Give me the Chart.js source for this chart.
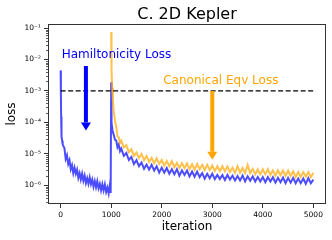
<!DOCTYPE html>
<html>
<head>
<meta charset="utf-8">
<script src="https://cdn.jsdelivr.net/npm/chart.js@4.4.1/dist/chart.umd.min.js"></script>
<style>
  html, body { margin: 0; padding: 0; background: #fff; }
</style>
</head>
<body>
<canvas id="chart" width="332" height="240"></canvas>
<script>
// Hamiltonicity loss (blue)
const blueIter = [0, 5, 10, 15, 20, 30, 40, 50, 75, 100, 125, 150, 175, 200, 225, 250, 275, 300, 325, 350, 375, 400, 425, 450, 475, 500, 525, 550, 575, 600, 625, 650, 675, 700, 725, 750, 775, 800, 825, 850, 875, 900, 925, 950, 975, 990,
  1000, 1003, 1010, 1025, 1050, 1075, 1100, 1125, 1150, 1175, 1200, 1250, 1300, 1350, 1400, 1450, 1500, 1550, 1600, 1650, 1700, 1750, 1800, 1850, 1900, 1950,
  2000, 2050, 2100, 2150, 2200, 2250, 2300, 2350, 2400, 2450, 2500, 2550, 2600, 2650, 2700, 2750, 2800, 2850, 2900, 2950,
  3000, 3050, 3100, 3150, 3200, 3250, 3300, 3350, 3400, 3450, 3500, 3550, 3600, 3650, 3700, 3750, 3800, 3850, 3900, 3950,
  4000, 4050, 4100, 4150, 4200, 4250, 4300, 4350, 4400, 4450, 4500, 4550, 4600, 4650, 4700, 4750, 4800, 4850, 4900, 4950, 5000];
const blueLoss = [4.5e-3, 8e-4, 1.5e-4, 6e-5, 3.5e-5, 2.6e-5, 2.0e-5, 1.8e-5, 1.5e-5, 6.8e-6, 8.9e-6, 4.7e-6, 6.2e-6, 3.2e-6, 4.3e-6, 2.4e-6, 3.6e-6, 2.3e-6, 3.1e-6, 1.7e-6, 2.4e-6, 1.5e-6, 2.3e-6, 1.38e-6, 2.0e-6, 1.17e-6, 1.66e-6, 1.1e-6, 1.74e-6, 1.07e-6, 1.5e-6, 8.9e-7, 1.35e-6, 8.5e-7, 1.32e-6, 7.9e-7, 1.1e-6, 6.8e-7, 1.07e-6, 6.8e-7, 1.05e-6, 6.0e-7, 8.3e-7, 5.4e-7, 1.05e-6, 5.6e-7,
  1.9e-3, 2.5e-4, 1.0e-4, 5.6e-5, 4.0e-5, 2.8e-5, 2.6e-5, 1.6e-5, 1.95e-5, 1.2e-5, 1.45e-5, 8.5e-6, 1.05e-5, 6.3e-6, 7.9e-6, 4.7e-6, 6.2e-6, 4.0e-6, 5.2e-6, 3.3e-6, 4.5e-6, 3.1e-6, 4.4e-6, 2.9e-6, 4.0e-6, 2.5e-6,
  3.6e-6, 2.5e-6, 3.5e-6, 2.3e-6, 3.2e-6, 2.2e-6, 3.2e-6, 2.0e-6, 2.95e-6, 2.1e-6, 2.9e-6, 1.9e-6, 2.7e-6, 1.86e-6, 2.7e-6, 1.8e-6, 2.4e-6, 1.6e-6, 2.3e-6, 1.66e-6,
  2.3e-6, 1.55e-6, 2.1e-6, 1.55e-6, 2.1e-6, 1.45e-6, 2.1e-6, 1.5e-6, 2.0e-6, 1.4e-6, 1.95e-6, 1.4e-6, 2.0e-6, 1.32e-6, 1.9e-6, 1.38e-6, 1.9e-6, 1.3e-6, 1.8e-6, 1.3e-6,
  1.8e-6, 1.23e-6, 1.8e-6, 1.3e-6, 1.78e-6, 1.2e-6, 1.7e-6, 1.23e-6, 1.74e-6, 1.15e-6, 1.7e-6, 1.2e-6, 1.7e-6, 1.15e-6, 1.62e-6, 1.15e-6, 1.62e-6, 1.1e-6, 1.66e-6, 1.15e-6, 1.5e-6];

// Canonical equivariance loss (orange)
const orangeIter = [1000, 1005, 1010, 1020, 1035, 1050, 1075, 1100, 1125, 1150, 1175, 1200, 1250, 1300, 1350, 1400, 1450, 1500, 1550, 1600, 1650, 1700, 1750, 1800, 1850, 1900, 1950,
  2000, 2050, 2100, 2150, 2200, 2250, 2300, 2350, 2400, 2450, 2500, 2550, 2600, 2650, 2700, 2750, 2800, 2850, 2900, 2950,
  3000, 3050, 3100, 3150, 3200, 3250, 3300, 3350, 3400, 3450, 3500, 3550, 3600, 3650, 3700, 3750, 3800, 3850, 3900, 3950,
  4000, 4050, 4100, 4150, 4200, 4250, 4300, 4350, 4400, 4450, 4500, 4550, 4600, 4650, 4700, 4750, 4800, 4850, 4900, 4950, 5000];
const orangeLoss = [7.5e-2, 1.6e-2, 4.0e-3, 1.26e-3, 5.0e-4, 2.2e-4, 1.12e-4, 7.1e-5, 3.6e-5, 3.3e-5, 2.2e-5, 2.6e-5, 1.6e-5, 1.86e-5, 1.12e-5, 1.4e-5, 8.5e-6, 1.1e-5, 7.2e-6, 9.8e-6, 6.2e-6, 8.5e-6, 5.4e-6, 7.4e-6, 5.0e-6, 7.1e-6, 4.7e-6,
  6.3e-6, 4.1e-6, 5.9e-6, 4.0e-6, 5.75e-6, 3.7e-6, 5.1e-6, 3.5e-6, 5.0e-6, 3.5e-6, 4.9e-6, 3.2e-6, 4.6e-6, 3.1e-6, 4.7e-6, 3.2e-6, 4.4e-6, 3.0e-6, 4.4e-6, 3.0e-6,
  4.2e-6, 2.8e-6, 4.0e-6, 2.75e-6, 4.0e-6, 2.75e-6, 3.9e-6, 2.6e-6, 3.6e-6, 2.45e-6, 4.0e-6, 2.5e-6, 3.5e-6, 2.4e-6, 4.4e-6, 2.4e-6, 3.3e-6, 2.2e-6, 3.2e-6, 2.2e-6,
  3.2e-6, 2.2e-6, 3.2e-6, 2.1e-6, 2.95e-6, 2.0e-6, 2.95e-6, 2.05e-6, 2.9e-6, 1.95e-6, 2.9e-6, 1.95e-6, 2.75e-6, 1.8e-6, 2.6e-6, 1.8e-6, 2.6e-6, 1.86e-6, 2.6e-6, 1.78e-6, 2.45e-6];

// dashed reference line
const refIter = [0, 5000];
const refLoss = [1e-3, 1e-3];

// axis ticks
const xTicks = [0, 1000, 2000, 3000, 4000, 5000];
const yTicks = [1e-6, 1e-5, 1e-4, 1e-3, 1e-2, 1e-1];

// annotations
const noteText = ["Hamiltonicity Loss", "Canonical Eqv Loss"];
const noteIter = [20, 2030];
const noteLoss = [1.1e-2, 1.6e-3];
const noteColor = ["#0000ff", "#ffa500"];
const arrowIter = [500, 3000];
const arrowFrom = [6.2e-3, 1e-3];
const arrowTo = [5.5e-5, 6.4e-6];
const arrowColor = ["#0000ff", "#ffa500"];

const toXY = (xs, ys) => xs.map((v, i) => ({ x: v, y: ys[i] }));

const SUP = { "-": "\u207B", "0": "\u2070", "1": "\u00B9", "2": "\u00B2", "3": "\u00B3",
  "4": "\u2074", "5": "\u2075", "6": "\u2076", "7": "\u2077", "8": "\u2078", "9": "\u2079" };
const powLabel = (v) => "10" + String(Math.round(Math.log10(v))).split("").map(c => SUP[c]).join("");

const extras = {
  id: "extras",
  afterDatasetsDraw(chart) {
    const { ctx, chartArea: a, scales: { x, y } } = chart;
    ctx.save();

    // text labels
    ctx.font = "12px 'DejaVu Sans'";
    ctx.textBaseline = "alphabetic";
    ctx.textAlign = "left";
    noteText.forEach((t, i) => {
      ctx.fillStyle = noteColor[i];
      ctx.fillText(t, x.getPixelForValue(noteIter[i]), y.getPixelForValue(noteLoss[i]));
    });

    // arrows
    arrowIter.forEach((it, i) => {
      const px = x.getPixelForValue(it);
      const y0 = y.getPixelForValue(arrowFrom[i]);
      const y1 = y.getPixelForValue(arrowTo[i]);
      const headH = 8, headW = 10;
      ctx.fillStyle = arrowColor[i];
      ctx.fillRect(px - 2, y0, 4, y1 - headH - y0);
      ctx.beginPath();
      ctx.moveTo(px - headW / 2, y1 - headH);
      ctx.lineTo(px + headW / 2, y1 - headH);
      ctx.lineTo(px, y1);
      ctx.closePath();
      ctx.fill();
    });

    // frame
    ctx.strokeStyle = "#333";
    ctx.lineWidth = 1;
    ctx.strokeRect(Math.round(a.left) + 0.5, Math.round(a.top) + 0.5,
      Math.round(a.right - a.left) - 1, Math.round(a.bottom - a.top) - 1);

    // minor ticks on log axis
    ctx.beginPath();
    for (let e = -7; e <= 0; e++) {
      for (let m = 2; m <= 9; m++) {
        const v = m * Math.pow(10, e);
        if (v < y.min || v > y.max) continue;
        const py = Math.round(y.getPixelForValue(v)) + 0.5;
        ctx.moveTo(a.left - 2, py);
        ctx.lineTo(a.left, py);
      }
    }
    ctx.lineWidth = 0.8;
    ctx.stroke();

    // title
    ctx.fillStyle = "#000";
    ctx.font = "16px 'DejaVu Sans'";
    ctx.textAlign = "center";
    ctx.fillText("C. 2D Kepler", (a.left + a.right) / 2, 18.5);
    ctx.restore();
  }
};

Chart.defaults.font.family = "'DejaVu Sans', sans-serif";
Chart.defaults.color = "#000";

new Chart(document.getElementById("chart"), {
  type: "line",
  data: {
    datasets: [
      {
        label: "Hamiltonicity Loss",
        data: toXY(blueIter, blueLoss),
        borderColor: "rgba(0, 0, 255, 0.7)",
        borderWidth: 2,
        pointRadius: 0,
        tension: 0,
        order: 3
      },
      {
        label: "Canonical Eqv Loss",
        data: toXY(orangeIter, orangeLoss),
        borderColor: "rgba(255, 165, 0, 0.7)",
        borderWidth: 2,
        pointRadius: 0,
        tension: 0,
        order: 2
      },
      {
        label: "threshold",
        data: toXY(refIter, refLoss),
        borderColor: "#000",
        borderWidth: 1.2,
        borderDash: [5, 2.5],
        pointRadius: 0,
        order: 1
      }
    ]
  },
  options: {
    responsive: false,
    animation: false,
    layout: { padding: { left: 0, right: 6, top: 24, bottom: 0 } },
    plugins: {
      legend: { display: false },
      tooltip: { enabled: false }
    },
    scales: {
      x: {
        type: "linear",
        min: -250,
        max: 5250,
        afterBuildTicks: (s) => { s.ticks = xTicks.map(v => ({ value: v })); },
        afterFit: (s) => { s.height = 36; },
        ticks: { font: { size: 7.5 }, color: "#000", padding: 3, maxRotation: 0, autoSkip: false, callback: (v) => String(v) },
        grid: { drawOnChartArea: false, tickLength: 4, color: "#333" },
        border: { display: false },
        title: { display: true, text: "iteration", font: { size: 12 }, color: "#000", padding: { top: 0, bottom: 6 } }
      },
      y: {
        type: "logarithmic",
        min: 2.5e-7,
        max: 0.135,
        afterBuildTicks: (s) => { s.ticks = yTicks.map(v => ({ value: v })); },
        afterFit: (s) => { s.width = 48; },
        ticks: { font: { size: 7.5 }, color: "#000", padding: 3, callback: (v) => powLabel(v) },
        grid: { drawOnChartArea: false, tickLength: 4, color: "#333" },
        border: { display: false },
        title: { display: true, text: "loss", font: { size: 12 }, color: "#000", padding: { top: 5, bottom: 0 } }
      }
    }
  },
  plugins: [extras]
});
</script>
</body>
</html>
